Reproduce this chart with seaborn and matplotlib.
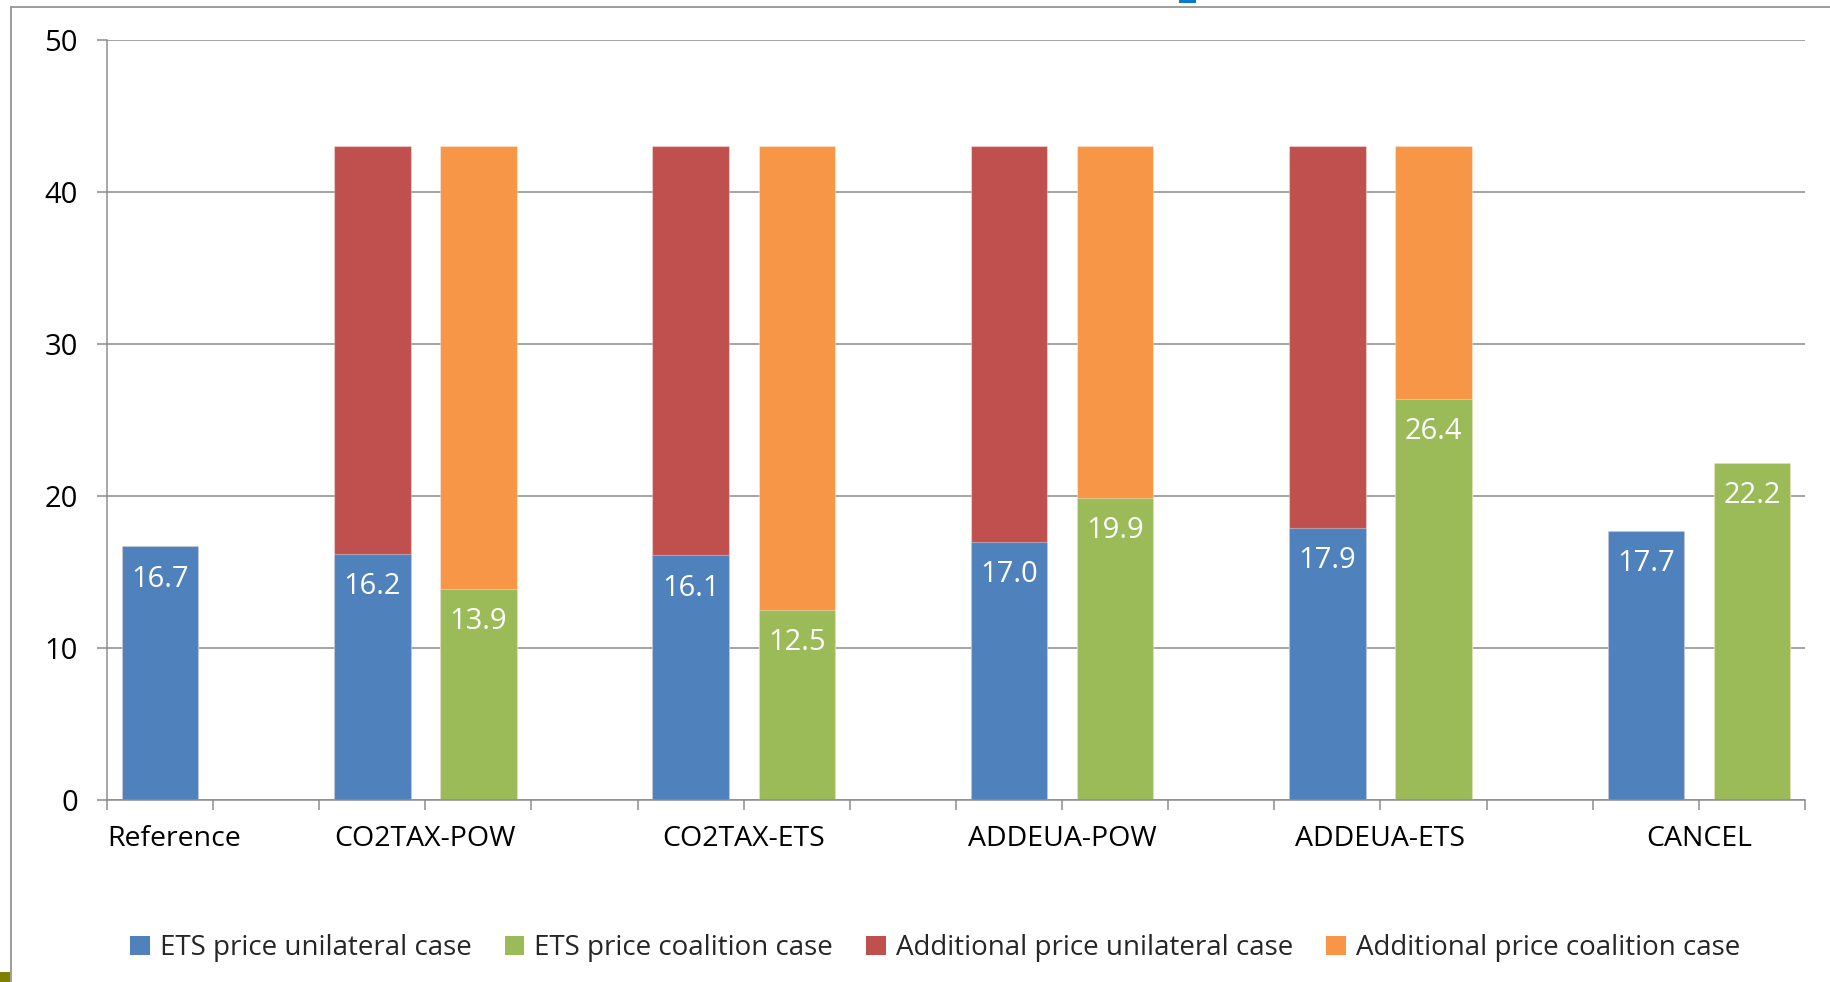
import numpy as np
import pandas as pd
import matplotlib
matplotlib.use("Agg")
import matplotlib.pyplot as plt
import seaborn as sns
from matplotlib.patches import Patch, Rectangle
from matplotlib.lines import Line2D

# ---- data -------------------------------------------------------------
scenarios = ["Reference", "CO2TAX-POW", "CO2TAX-ETS", "ADDEUA-POW", "ADDEUA-ETS", "CANCEL"]
ets_unilateral = [16.7, 16.2, 16.1, 17.0, 17.9, 17.7]
ets_coalition = [np.nan, 13.9, 12.5, 19.9, 26.4, 22.2]
add_unilateral = [0.0, 26.8, 26.9, 26.0, 25.1, 0.0]
add_coalition = [np.nan, 29.1, 30.5, 23.1, 16.6, 0.0]
legend_labels = ["ETS price unilateral case", "ETS price coalition case",
                 "Additional price unilateral case", "Additional price coalition case"]
y_ticks = [0, 10, 20, 30, 40, 50]

BLUE, GREEN, RED, ORANGE = "#4F81BD", "#9BBB59", "#C0504D", "#F79646"
GRID = "#8C8C8C"

sns.set_theme(style="white")
plt.rcParams["font.family"] = ["Open Sans", "DejaVu Sans"]

# ---- slot layout: unilateral / coalition bars with a gap between scenarios
slot_names = []
rows = []
for i, sc in enumerate(scenarios):
    if i > 1:
        slot_names.append(f"gap{i}")
    for case, base, add in (("unilateral", ets_unilateral[i], add_unilateral[i]),
                            ("coalition", ets_coalition[i], add_coalition[i])):
        key = f"{sc}|{case}"
        slot_names.append(key)
        if not np.isnan(base):
            rows.append({"slot": key, "scenario": sc, "case": case,
                         "base": base, "total": base + add})
df = pd.DataFrame(rows)
slot_pos = {name: k for k, name in enumerate(slot_names)}
n_slots = len(slot_names)

# ---- figure -----------------------------------------------------------
fig = plt.figure(figsize=(18.31, 9.82), dpi=100)
ax = fig.add_axes([107 / 1831, 1 - 800 / 982, (1805 - 107) / 1831, (800 - 40) / 982])

sns.barplot(data=df, x="slot", y="total", hue="case", order=slot_names,
            hue_order=["unilateral", "coalition"],
            palette={"unilateral": RED, "coalition": ORANGE},
            dodge=False, width=0.72, saturation=1, legend=False, ax=ax,
            edgecolor=(1, 1, 1, 0.35), linewidth=0.8, zorder=2)
sns.barplot(data=df, x="slot", y="base", hue="case", order=slot_names,
            hue_order=["unilateral", "coalition"],
            palette={"unilateral": BLUE, "coalition": GREEN},
            dodge=False, width=0.72, saturation=1, legend=False, ax=ax,
            edgecolor=(1, 1, 1, 0.35), linewidth=0.8, zorder=3)

# value labels inside the top of the ETS price bars
for _, r in df.iterrows():
    ax.annotate(f"{r['base']:.1f}", xy=(slot_pos[r["slot"]], r["base"]),
                xytext=(0, -33), textcoords="offset pixels",
                ha="center", va="center", color="white", fontsize=21, zorder=5)

ax.set_xlim(-0.5, n_slots - 0.5)
ax.set_ylim(0, 50)
ax.set_yticks(y_ticks)
ax.set_yticklabels([str(t) for t in y_ticks], fontsize=21, color="black")
ax.set_xticks(np.arange(-0.5, n_slots, 1.0))
ax.set_xticklabels([])
ax.set_xlabel("")
ax.set_ylabel("")
ax.yaxis.grid(True, color=GRID, linewidth=1.1, zorder=0)
ax.xaxis.grid(False)
ax.set_axisbelow(True)
for s in ("top", "right"):
    ax.spines[s].set_visible(False)
for s in ("left", "bottom"):
    ax.spines[s].set_color(GRID)
    ax.spines[s].set_linewidth(1.1)
    ax.spines[s].set_zorder(4)
ax.tick_params(axis="y", length=7, width=1.1, color=GRID, pad=14, direction="out", left=True)
ax.tick_params(axis="x", length=7, width=1.1, color=GRID, direction="out", bottom=True)

# scenario labels below each pair of bars
for i, sc in enumerate(scenarios):
    if i == 0:
        x, ha = -0.5, "left"
    else:
        x, ha = (slot_pos[f"{sc}|unilateral"] + slot_pos[f"{sc}|coalition"]) / 2, "center"
    ax.annotate(sc, xy=(x, 0), xycoords=("data", "axes fraction"),
                xytext=(0, -25), textcoords="offset pixels",
                ha=ha, va="top", fontsize=20.5, color="black")

handles = [Patch(facecolor=c, edgecolor="none") for c in (BLUE, GREEN, RED, ORANGE)]
fig.legend(handles, legend_labels, loc="center", ncol=4,
           bbox_to_anchor=(935 / 1831, 1 - 948 / 982), frameon=False,
           fontsize=20, handlelength=0.7, handleheight=0.7,
           handletextpad=0.36, columnspacing=1.2)

# outer chart frame
fig.add_artist(Line2D([11 / 1831, 11 / 1831], [0, 1 - 7 / 982],
                      transform=fig.transFigure, color="#8C8C8C", linewidth=1.2))
fig.add_artist(Line2D([11 / 1831, 1], [1 - 7 / 982, 1 - 7 / 982],
                      transform=fig.transFigure, color="#8C8C8C", linewidth=1.2))
fig.add_artist(Rectangle((1179 / 1831, 1 - 3 / 982), 17 / 1831, 3 / 982,
                         transform=fig.transFigure, color="#0A78D0", linewidth=0))
fig.add_artist(Rectangle((0, 0), 10 / 1831, 10 / 982,
                         transform=fig.transFigure, color="#7F7F00", linewidth=0))

fig.savefig("out.png", dpi=100)
